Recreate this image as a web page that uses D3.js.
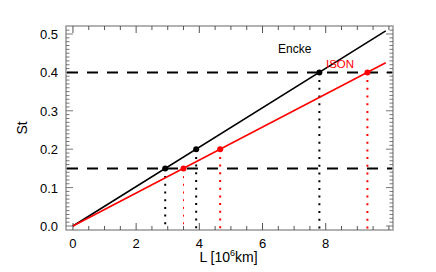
<!DOCTYPE html>
<html>
<head>
<meta charset="utf-8">
<script src="https://cdn.jsdelivr.net/npm/d3@7"></script>
<style>
  body { margin: 0; background: #fff; }
  text { font-family: "Liberation Sans", Arial, sans-serif; }
</style>
</head>
<body>
<div id="chart"></div>
<script>
// values
const xMajor = [0, 2, 4, 6, 8];
const yMajor = [0.0, 0.1, 0.2, 0.3, 0.4, 0.5];
const stLevels = [0.15, 0.4];
const enckeLine = [[0, 0], [9.9, 0.508]];
const isonLine = [[0, 0], [9.9, 0.425]];
const enckePts = [[2.92, 0.15], [3.9, 0.2], [7.8, 0.4]];
const isonPts = [[3.5, 0.15], [4.66, 0.2], [9.32, 0.4]];
const isonDotWidth = [1, 2, 2];

const width = 436, height = 272;
const pl = 66, pr = 393, pt = 26, pb = 230;

const x = d3.scaleLinear().domain([-0.22, 10.13]).range([pl, pr]);
const y = d3.scaleLinear().domain([-0.0104, 0.5208]).range([pb, pt]);

const svg = d3.select('#chart').append('svg')
    .attr('width', width)
    .attr('height', height);

// minor ticks
const xMinor = d3.range(0, 10.01, 0.5);
const yMinor = d3.range(0, 0.52, 0.01);

const frame = svg.append('g');
frame.append('rect')
    .attr('x', pl).attr('y', pt)
    .attr('width', pr - pl).attr('height', pb - pt)
    .attr('fill', 'none').attr('stroke', '#999').attr('stroke-width', 1.5);

const tickColor = '#555';
// x ticks bottom and top
xMinor.forEach(v => {
    const major = xMajor.includes(v);
    const len = major ? 7 : 4;
    frame.append('line').attr('x1', x(v)).attr('x2', x(v))
        .attr('y1', pb).attr('y2', pb - len)
        .attr('stroke', tickColor).attr('stroke-width', 1);
    frame.append('line').attr('x1', x(v)).attr('x2', x(v))
        .attr('y1', pt).attr('y2', pt + len)
        .attr('stroke', tickColor).attr('stroke-width', 1);
});
yMinor.forEach((v, i) => {
    const major = i % 10 === 0;
    const len = major ? 7 : 3.5;
    frame.append('line').attr('x1', pl).attr('x2', pl + len)
        .attr('y1', y(v)).attr('y2', y(v))
        .attr('stroke', tickColor).attr('stroke-width', 0.8);
    frame.append('line').attr('x1', pr).attr('x2', pr - len)
        .attr('y1', y(v)).attr('y2', y(v))
        .attr('stroke', tickColor).attr('stroke-width', 0.8);
});

// tick labels
svg.append('g').selectAll('text')
    .data(xMajor).enter().append('text')
    .attr('x', d => x(d)).attr('y', pb + 18)
    .attr('text-anchor', 'middle')
    .attr('font-size', 13)
    .text(d => d);

svg.append('g').selectAll('text')
    .data(yMajor).enter().append('text')
    .attr('x', pl - 8).attr('y', d => y(d) + 5)
    .attr('text-anchor', 'end')
    .attr('font-size', 13)
    .text(d => d.toFixed(1));

// axis titles
const xt = svg.append('text')
    .attr('x', 228.5).attr('y', 262)
    .attr('text-anchor', 'middle')
    .attr('font-size', 14);
xt.append('tspan').text('L [10');
xt.append('tspan').attr('font-size', 9).attr('dy', -6).text('6');
xt.append('tspan').attr('dy', 6).text('km]');

svg.append('text')
    .attr('transform', 'translate(27,' + 128 + ') rotate(-90)')
    .attr('text-anchor', 'middle')
    .attr('font-size', 14)
    .text('St');

// horizontal dashed levels
svg.append('g').selectAll('line')
    .data(stLevels).enter().append('line')
    .attr('x1', pl + 1).attr('x2', pr - 1)
    .attr('y1', d => y(d)).attr('y2', d => y(d))
    .attr('stroke', '#000').attr('stroke-width', 2)
    .attr('stroke-dasharray', '11,9');

// vertical dotted drops
svg.append('g').selectAll('line')
    .data(enckePts).enter().append('line')
    .attr('x1', d => x(d[0])).attr('x2', d => x(d[0]))
    .attr('y1', d => y(d[1])).attr('y2', pb)
    .attr('stroke', '#000').attr('stroke-width', 2)
    .attr('stroke-dasharray', '2,5.7');

svg.append('g').selectAll('line')
    .data(isonPts).enter().append('line')
    .attr('x1', d => x(d[0])).attr('x2', d => x(d[0]))
    .attr('y1', d => y(d[1])).attr('y2', pb)
    .attr('stroke', 'red').attr('stroke-width', (d, i) => isonDotWidth[i])
    .attr('stroke-dasharray', '2,5.7');

// lines
const line = d3.line().x(d => x(d[0])).y(d => y(d[1]));
svg.append('path').attr('d', line(enckeLine))
    .attr('fill', 'none').attr('stroke', '#000').attr('stroke-width', 1.6);
svg.append('path').attr('d', line(isonLine))
    .attr('fill', 'none').attr('stroke', 'red').attr('stroke-width', 1.6);

// points
svg.append('g').selectAll('circle')
    .data(enckePts).enter().append('circle')
    .attr('cx', d => x(d[0])).attr('cy', d => y(d[1]))
    .attr('r', 3).attr('fill', '#000');
svg.append('g').selectAll('circle')
    .data(isonPts).enter().append('circle')
    .attr('cx', d => x(d[0])).attr('cy', d => y(d[1]))
    .attr('r', 3).attr('fill', 'red');

// labels
svg.append('text').attr('x', 278).attr('y', 53)
    .attr('font-size', 12).attr('fill', '#000').text('Encke');
svg.append('text').attr('x', 326).attr('y', 68)
    .attr('font-size', 11.5).attr('fill', 'red').text('ISON');
</script>
</body>
</html>
